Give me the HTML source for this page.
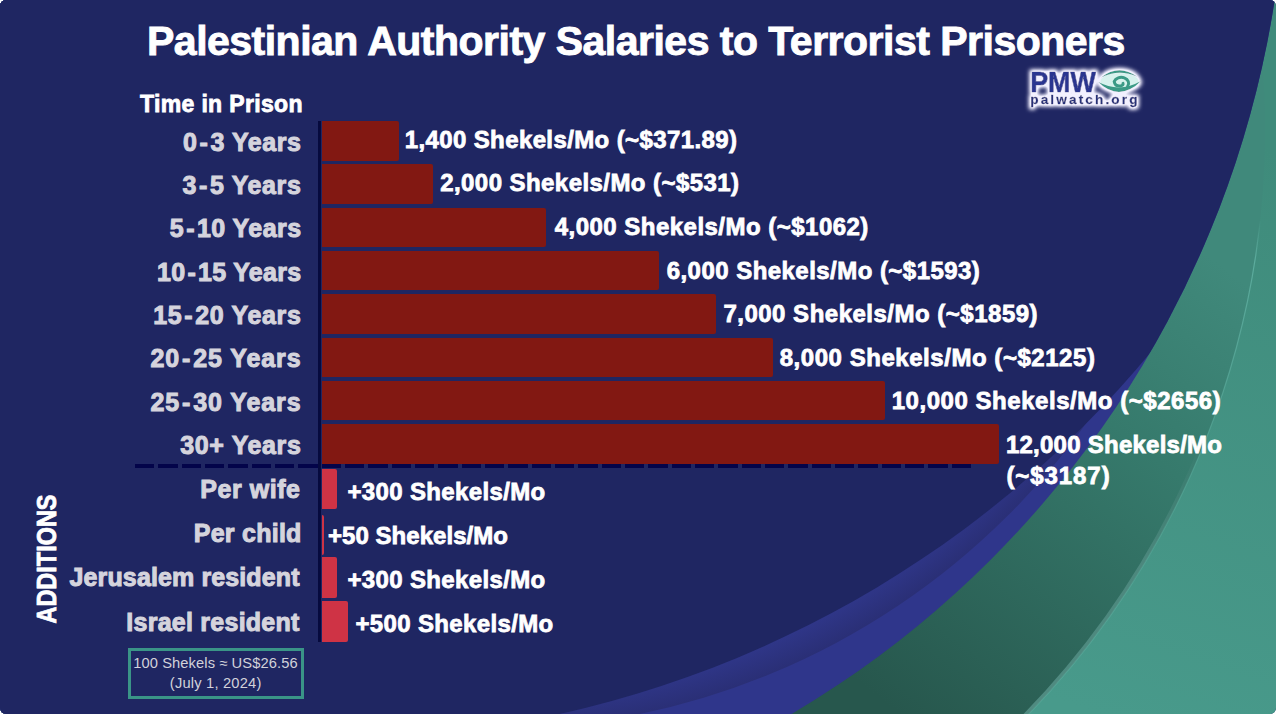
<!DOCTYPE html>
<html><head><meta charset="utf-8">
<style>
html,body{margin:0;padding:0;background:#fff;}
#c{position:relative;width:1276px;height:714px;overflow:hidden;background:#1f2662;border-radius:6px;font-family:"Liberation Sans",sans-serif;font-weight:bold;}
#bg{position:absolute;left:0;top:0;}
.t{position:absolute;white-space:nowrap;line-height:1;}
.w{color:#fff;-webkit-text-stroke:0.8px #fff;}
.g{color:#d5d4dd;-webkit-text-stroke:1.0px #d5d4dd;}
.n{color:#d2d2da;font-weight:normal;}
.tt{-webkit-text-stroke:0.9px #fff;}
.bar{position:absolute;left:322px;height:39.5px;background:#821812;border-radius:0 2px 2px 0;}
.abar{position:absolute;left:322px;height:40.5px;background:#cf3345;border-radius:0 2px 2px 0;}
#axis{position:absolute;left:318.2px;top:121px;width:3.3px;height:521px;background:#060a3e;}
#dash{position:absolute;left:134.6px;top:464px;width:836.4px;height:3.5px;background:repeating-linear-gradient(90deg,#03044a 0,#03044a 19.5px,transparent 19.5px,transparent 23.33px);}
#add{position:absolute;left:47.3px;top:559.2px;transform:translate(-50%,-50%) rotate(-90deg) scaleX(0.869);}
#note{position:absolute;left:128.2px;top:647.7px;width:170px;height:45px;border:3px solid #3a9487;}
</style></head><body>
<div id="c">
<svg id="bg" width="1276" height="714" viewBox="0 0 1276 714">
  <defs>
    <clipPath id="clipC"><circle cx="278.2" cy="-153.8" r="1008.3"/></clipPath>
    <linearGradient id="gD" gradientUnits="userSpaceOnUse" x1="1240" y1="280" x2="900" y2="714"><stop offset="0" stop-color="#40897b"/><stop offset="0.35" stop-color="#367a6c"/><stop offset="1" stop-color="#27574d"/></linearGradient>
    <linearGradient id="gL" gradientUnits="userSpaceOnUse" x1="1276" y1="150" x2="1100" y2="714"><stop offset="0" stop-color="#3f8b7b"/><stop offset="1" stop-color="#489a8b"/></linearGradient>
    <radialGradient id="gB" gradientUnits="userSpaceOnUse" cx="491.5" cy="-1.8" r="731"><stop offset="0.96" stop-color="#2f3688"/><stop offset="1" stop-color="#2a2f76"/></radialGradient>
    <linearGradient id="gHi" gradientUnits="userSpaceOnUse" x1="0" y1="220" x2="0" y2="714"><stop offset="0" stop-color="#63b3a5" stop-opacity="0"/><stop offset="0.08" stop-color="#63b3a5" stop-opacity="0.8"/><stop offset="0.5" stop-color="#63b3a5" stop-opacity="0.35"/><stop offset="1" stop-color="#63b3a5" stop-opacity="0.5"/></linearGradient>
    <linearGradient id="gGr" gradientUnits="userSpaceOnUse" x1="0" y1="440" x2="0" y2="714"><stop offset="0" stop-color="#4f8a80" stop-opacity="0"/><stop offset="0.45" stop-color="#4f8a80" stop-opacity="0.9"/><stop offset="1" stop-color="#508b81" stop-opacity="1"/></linearGradient>
  </defs>
  <rect x="0" y="0" width="1276" height="714" fill="url(#gL)"/>
  <circle cx="422.6" cy="128.8" r="842.5" fill="url(#gD)"/>
  <circle cx="422.6" cy="128.8" r="840.6" fill="none" stroke="url(#gGr)" stroke-width="3.6"/>
  <circle cx="422.6" cy="128.8" r="842.6" fill="none" stroke="url(#gHi)" stroke-width="1.2"/>
  <g clip-path="url(#clipC)">
    <rect x="0" y="0" width="1276" height="714" fill="#2f368b"/>
    <circle cx="491.5" cy="-1.8" r="731" fill="url(#gB)"/>
    <circle cx="327.3" cy="-329.5" r="1069" fill="#1f2662"/>
    <rect x="0" y="0" width="400" height="714" fill="#1f2662"/>
  </g>
</svg>

<div class="t w tt" style="left:147.00px;top:20.89px;font-size:41px;letter-spacing:-0.510px;">Palestinian Authority Salaries to Terrorist Prisoners</div>
<div class="t w" style="left:140.00px;top:92.73px;font-size:23px;letter-spacing:0.346px;">Time in Prison</div>
<div class="bar" style="top:121.00px;width:77.00px"></div>
<div class="t g" style="right:974.50px;top:129.84px;font-size:25px;letter-spacing:0.562px;">0<span style="margin:0 2px">-</span>3 Years</div>
<div class="t w" style="left:404.70px;top:127.78px;font-size:24px;letter-spacing:0.385px;">1,400 Shekels/Mo (~$371.89)</div>
<div class="bar" style="top:164.33px;width:111.00px"></div>
<div class="t g" style="right:974.50px;top:173.14px;font-size:25px;letter-spacing:0.625px;">3<span style="margin:0 2px">-</span>5 Years</div>
<div class="t w" style="left:440.20px;top:171.38px;font-size:24px;letter-spacing:0.435px;">2,000 Shekels/Mo (~$531)</div>
<div class="bar" style="top:207.66px;width:224.00px"></div>
<div class="t g" style="right:974.50px;top:216.44px;font-size:25px;letter-spacing:0.444px;">5<span style="margin:0 2px">-</span>10 Years</div>
<div class="t w" style="left:554.70px;top:214.98px;font-size:24px;letter-spacing:0.479px;">4,000 Shekels/Mo (~$1062)</div>
<div class="bar" style="top:250.99px;width:337.10px"></div>
<div class="t g" style="right:974.50px;top:259.74px;font-size:25px;letter-spacing:0.300px;">10<span style="margin:0 2px">-</span>15 Years</div>
<div class="t w" style="left:666.70px;top:258.58px;font-size:24px;letter-spacing:0.458px;">6,000 Shekels/Mo (~$1593)</div>
<div class="bar" style="top:294.32px;width:394.10px"></div>
<div class="t g" style="right:974.50px;top:303.04px;font-size:25px;letter-spacing:0.650px;">15<span style="margin:0 2px">-</span>20 Years</div>
<div class="t w" style="left:723.40px;top:302.18px;font-size:24px;letter-spacing:0.500px;">7,000 Shekels/Mo (~$1859)</div>
<div class="bar" style="top:337.65px;width:450.50px"></div>
<div class="t g" style="right:974.50px;top:346.34px;font-size:25px;letter-spacing:0.900px;">20<span style="margin:0 2px">-</span>25 Years</div>
<div class="t w" style="left:779.70px;top:345.78px;font-size:24px;letter-spacing:0.542px;">8,000 Shekels/Mo (~$2125)</div>
<div class="bar" style="top:380.98px;width:563.40px"></div>
<div class="t g" style="right:974.50px;top:389.64px;font-size:25px;letter-spacing:0.900px;">25<span style="margin:0 2px">-</span>30 Years</div>
<div class="t w" style="left:891.70px;top:389.38px;font-size:24px;letter-spacing:0.540px;">10,000 Shekels/Mo (~$2656)</div>
<div class="bar" style="top:424.31px;width:676.50px"></div>
<div class="t g" style="right:974.50px;top:432.94px;font-size:25px;letter-spacing:0.625px;">30+ Years</div>
<div class="t w" style="left:1005.90px;top:432.98px;font-size:24px;letter-spacing:0.250px;">12,000 Shekels/Mo</div>
<div class="t w" style="left:1006.40px;top:463.68px;font-size:24px;letter-spacing:0.929px;">(~$3187)</div>
<div class="abar" style="top:468.50px;width:14.70px"></div>
<div class="t g" style="right:975.40px;top:476.54px;font-size:25px;letter-spacing:0.571px;">Per wife</div>
<div class="t w" style="left:347.40px;top:479.68px;font-size:24px;letter-spacing:0.357px;">+300 Shekels/Mo</div>
<div class="abar" style="top:514.60px;width:1.50px"></div>
<div class="t g" style="right:974.40px;top:521.34px;font-size:25px;letter-spacing:0.250px;">Per child</div>
<div class="t w" style="left:328.00px;top:523.68px;font-size:24px;letter-spacing:0.038px;">+50 Shekels/Mo</div>
<div class="abar" style="top:557.20px;width:14.70px"></div>
<div class="t g" style="right:976.40px;top:565.04px;font-size:25px;letter-spacing:0.118px;">Jerusalem resident</div>
<div class="t w" style="left:347.40px;top:568.28px;font-size:24px;letter-spacing:0.357px;">+300 Shekels/Mo</div>
<div class="abar" style="top:601.00px;width:26.20px"></div>
<div class="t g" style="right:976.40px;top:609.64px;font-size:25px;letter-spacing:0.250px;">Israel resident</div>
<div class="t w" style="left:355.40px;top:612.18px;font-size:24px;letter-spacing:0.357px;">+500 Shekels/Mo</div>
<div id="axis"></div>
<div id="dash"></div>
<div class="t w" id="add" style="font-size:27px;letter-spacing:0.000px">ADDITIONS</div>
<div id="note"></div>
<div class="t n" style="left:133.20px;top:656.46px;font-size:14.7px;letter-spacing:0.095px;">100 Shekels ≈ US$26.56</div>
<div class="t n" style="left:169.80px;top:676.16px;font-size:14.7px;letter-spacing:0.192px;">(July 1, 2024)</div>
<svg style="position:absolute;left:1015px;top:55px;overflow:visible" width="140" height="60" viewBox="0 0 140 60">
  <defs>
    <filter id="glow" x="-20%" y="-30%" width="140%" height="160%">
      <feMorphology in="SourceAlpha" operator="dilate" radius="2.2" result="d"/>
      <feGaussianBlur in="d" stdDeviation="2.2" result="b"/>
      <feFlood flood-color="#f2f0ff"/>
      <feComposite in2="b" operator="in" result="g"/>
      <feComponentTransfer in="g" result="g2"><feFuncA type="linear" slope="1.4"/></feComponentTransfer><feMerge><feMergeNode in="g2"/><feMergeNode in="SourceGraphic"/></feMerge>
    </filter>
  </defs>
  <g filter="url(#glow)">
    <ellipse cx="104.5" cy="26.5" rx="19" ry="8.5" fill="#d6f2ec" opacity="0.95"/>
    <text x="15.2" y="36.7" font-family="Liberation Sans" font-size="29.5" fill="#2b3690" stroke="#2b3690" stroke-width="0.7" textLength="65.6" lengthAdjust="spacingAndGlyphs">PMW</text>
    <text x="15.2" y="48.7" font-family="Liberation Sans" font-weight="bold" font-size="13.6" fill="#27307a" stroke="#27307a" stroke-width="0.3" textLength="107.3" lengthAdjust="spacing">palwatch.org</text>
    <path d="M85.9 22.5 Q104.1 8.25 122.3 21.8 Q104.1 13.25 85.9 22.5 Z" fill="#3a9a86"/>
    <path d="M83 26.8 Q104.1 47.55 126 26.1 Q104.1 38.55 83 26.8 Z" fill="#3a9a86"/>
    <path d="M112.6 31.4 A7.4 6 0 1 0 99.2 26.5 Q100 31.6 105.5 31 Q108.6 30.4 108 28.4" fill="none" stroke="#3a9a86" stroke-width="3" stroke-linecap="round"/>
  </g>
</svg>

</div>
</body></html>
